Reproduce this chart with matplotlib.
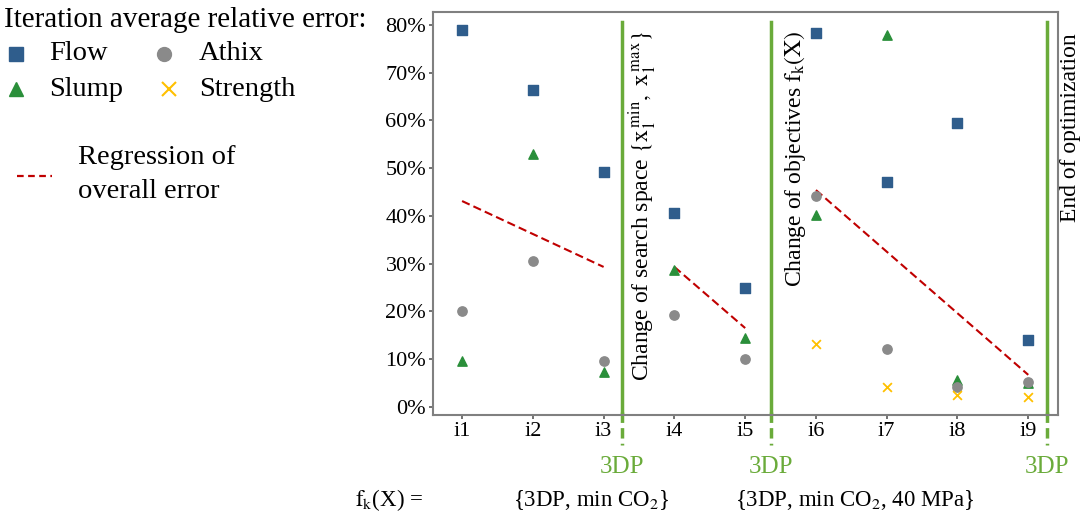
import matplotlib

matplotlib.use("Agg")
import matplotlib.pyplot as plt
from matplotlib.lines import Line2D
import numpy as np

plt.rcParams["font.family"] = ["Liberation Serif", "DejaVu Serif"]
plt.rcParams["mathtext.fontset"] = "stix"

# iteration error values, in percent
iterations = ["i1", "i2", "i3", "i4", "i5", "i6", "i7", "i8", "i9"]
flow = [79.0, 66.4, 49.2, 40.6, 24.9, 78.3, 47.1, 59.5, 14.0]
slump = [9.6, 53.0, 7.3, 28.7, 14.4, 40.2, 77.9, 5.7, 5.0]
athix = [20.1, 30.6, 9.6, 19.3, 10.1, 44.2, 12.1, 4.2, 5.2]
strength_iters = [6, 7, 8, 9]
strength = [13.2, 4.2, 2.5, 2.1]

# regression of overall error: (start iter, end iter, start value, end value)
regressions = [(1, 3, 43.1, 29.3), (4, 5, 29.3, 16.5), (6, 9, 45.4, 6.7)]

# phase boundaries and their labels
boundaries = [3.26, 5.37, 9.26]
boundary_labels = [
    r"Change of search space $\{\mathrm{x}_1^{\,\mathrm{min}},\ \mathrm{x}_1^{\,\mathrm{max}}\}$",
    r"Change of objectives $\mathrm{f}_\mathrm{k}(\mathrm{X})$",
    "End of optimization",
]

C_FLOW = "#2f5d8c"
C_SLUMP = "#2a8f3a"
C_ATHIX = "#8a8a8a"
C_STRENGTH = "#ffc000"
C_REG = "#c00000"
C_LINE = "#6aab3a"

fig = plt.figure(figsize=(10.84, 5.2), dpi=100)
ax = fig.add_axes([0.3995, 0.202, 0.5765, 0.775])

x = np.arange(1, len(iterations) + 1)
ax.scatter(x, flow, marker="s", s=42, color=C_FLOW, zorder=3)
ax.scatter(x, slump, marker="^", s=45, color=C_SLUMP, zorder=3)
ax.scatter(x, athix, marker="o", s=45, color=C_ATHIX, zorder=3)
ax.scatter(strength_iters, strength, marker="x", s=40, color=C_STRENGTH, linewidths=1.3, zorder=3)

for x0, x1, y0, y1 in regressions:
    ax.plot([x0, x1], [y0, y1], color=C_REG, ls=(0, (4, 2)), lw=1.5, zorder=2)

for bx in boundaries:
    ax.plot([bx, bx], [-1.0, 80.5], color=C_LINE, lw=2.5, zorder=2, clip_on=False)
    ax.plot([bx, bx], [-1.0, -8.0], color=C_LINE, lw=2.5, ls=(0, (3, 1.5)),
            zorder=2, clip_on=False)
    ax.text(bx, -12.6, "3DP", color=C_LINE, fontsize=18, ha="center", va="center",
            clip_on=False)

ax.text(3.56, 5.5, boundary_labels[0], rotation=90, fontsize=17, ha="center", va="bottom")
ax.text(5.7, 25.0, boundary_labels[1], rotation=90, fontsize=17, ha="center", va="bottom")
ax.text(9.6, 38.8, boundary_labels[2], rotation=90, fontsize=17, ha="center", va="bottom",
        clip_on=False)

ax.set_xlim(0.59, 9.42)
ax.set_ylim(-1.7, 82.7)
ax.set_xticks(x)
ax.set_xticklabels(iterations, fontsize=16)
ax.set_yticks(np.arange(0, 81, 10))
ax.set_yticklabels([f"{v}%" for v in range(0, 81, 10)], fontsize=16)
ax.tick_params(colors="#595959", labelcolor="black", length=3, width=1.2, pad=2)
for sp in ax.spines.values():
    sp.set_color("#808080")
    sp.set_linewidth(1.5)

# bottom annotations
fig.text(355 / 1084, 1 - 500 / 520, r"$\mathrm{f}_\mathrm{k}$(X) =", fontsize=16.5,
         ha="left", va="center")
fig.text(591 / 1084, 1 - 500 / 520, r"{3DP, min CO$_2$}", fontsize=16.5,
         ha="center", va="center")
fig.text(855 / 1084, 1 - 500 / 520, r"{3DP, min CO$_2$, 40 MPa}", fontsize=16.5,
         ha="center", va="center")

# hand-built legend on the left
fig.text(4 / 1084, 1 - 20 / 520, "Iteration average relative error:", fontsize=21,
         ha="left", va="center")
legend_items = [
    ("s", C_FLOW, "Flow", 16, 54),
    ("o", C_ATHIX, "Athix", 164, 54),
    ("^", C_SLUMP, "Slump", 16, 89),
    ("x", C_STRENGTH, "Strength", 169, 89),
]
for mk, col, label, px, py in legend_items:
    fig.add_artist(Line2D([px / 1084], [1 - py / 520], marker=mk, color=col, ls="none",
                          markersize=10, markeredgewidth=1.5 if mk == "x" else 1.0))
    fig.text(49 / 1084 if px < 100 else 199 / 1084, 1 - py / 520, label, fontsize=20.5,
             ha="left", va="center")

fig.add_artist(Line2D([17 / 1084, 52 / 1084], [1 - 176 / 520, 1 - 176 / 520],
                      color=C_REG, ls=(0, (3, 2)), lw=1.6))
fig.text(78 / 1084, 1 - 157 / 520, "Regression of", fontsize=20.5, ha="left", va="center")
fig.text(78 / 1084, 1 - 192 / 520, "overall error", fontsize=20.5, ha="left", va="center")

fig.savefig("out.png", dpi=100)
